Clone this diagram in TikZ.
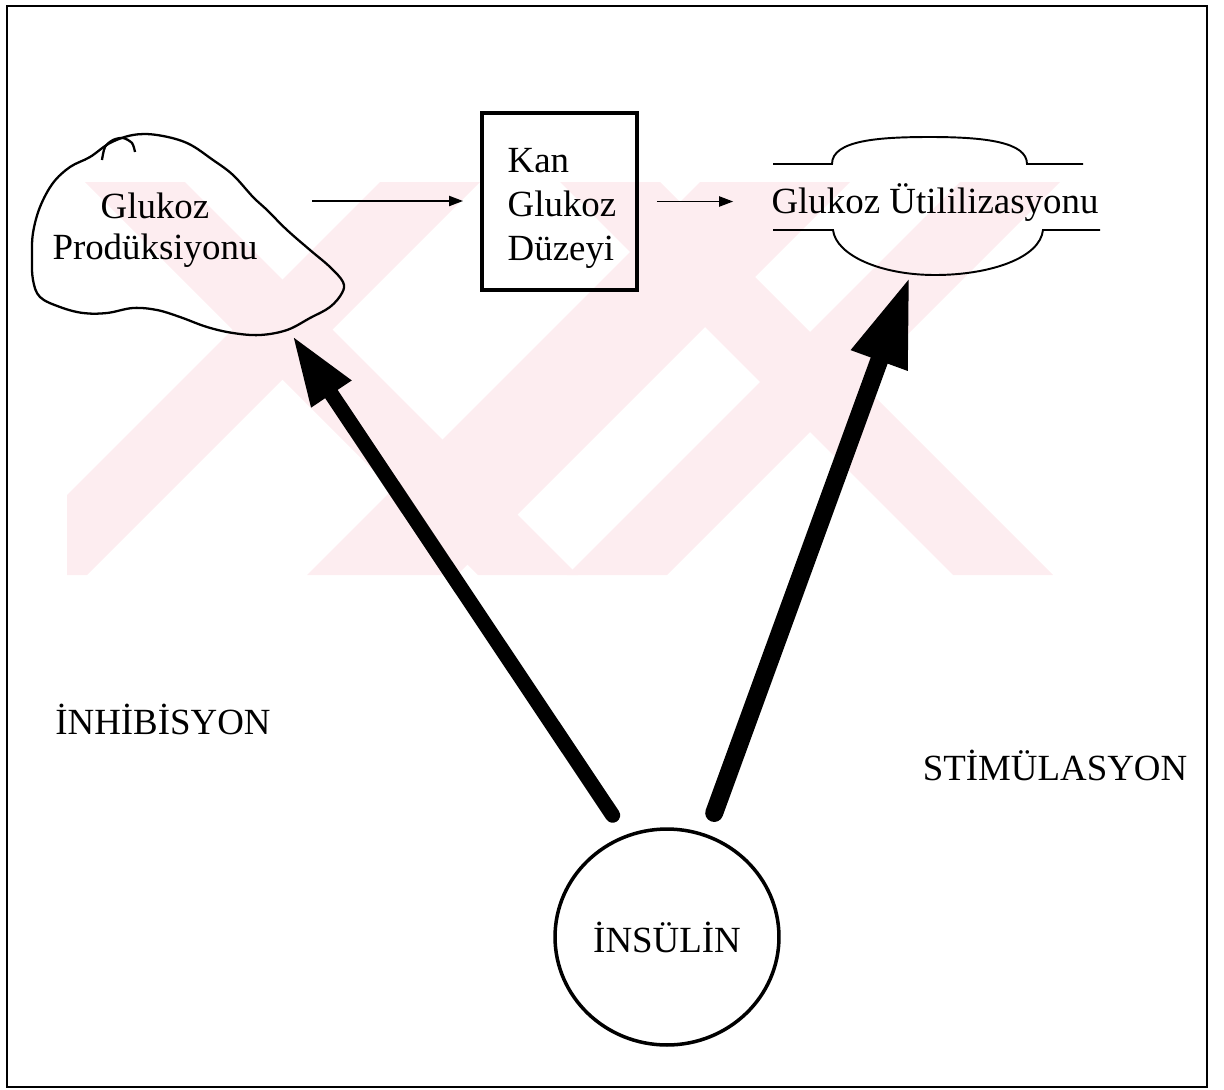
\documentclass[tikz,border=0pt]{standalone}
\usepackage{fontspec}
\setmainfont{Liberation Serif}
\usetikzlibrary{arrows.meta,shapes.geometric}
\definecolor{wmpink}{RGB}{253,237,240}

\begin{document}
\begin{tikzpicture}[
    x=0.02cm,
    y=-0.02cm,
    txt_style/.style={inner sep=0pt, font=\fontsize{21}{24}\selectfont},
    box_style/.style={draw, line width=2.2pt, minimum width=3.1cm, minimum height=3.54cm, inner sep=0pt},
    ins_style/.style={ellipse, draw, line width=2pt, minimum width=4.48cm, minimum height=4.32cm, inner sep=0pt, font=\fontsize{21}{24}\selectfont},
    outline_style/.style={draw, line width=1.3pt, line join=round},
    cloud_style/.style={draw, line width=1.1pt},
    thin_arrow/.style={draw, line width=1.1pt, -{Triangle[length=0.28cm, width=0.2cm]}},
    thick_arrow/.style={draw, line cap=round},
    wm_band/.style={fill=wmpink}
]
  \useasboundingbox (0,0) rectangle (1224,1089);
  % Watermark bands
  \begin{scope}
    \clip (67,182) rectangle (1077,575);
    \foreach \a/\w/\d in {85/100/393, 560/100/393, 380/100/-393, 700/150/-393, 960/100/-393} {
      \fill[wm_band] (\a,182) -- ({\a+\w},182) -- ({\a+\w+(\d)},575) -- ({\a+(\d)},575) -- cycle;
    }
  \end{scope}
  % Frame
  \draw[line width=1.2pt] (7,6) rectangle (1207,1087);
  % Hand drawn outline round the production
  \draw[outline_style] plot[smooth cycle, tension=0.6] coordinates {
    (133,135) (157,135) (187,143) (213,160) (233,175) (253,197) (267,210) (287,230)
    (310,250) (330,267) (343,282) (342,293) (330,307) (310,318) (287,330) (260,335)
    (233,333) (207,327) (180,317) (157,310) (133,308) (107,313) (83,313) (60,307)
    (40,297) (33,280) (32,257) (33,233) (40,207) (53,183) (70,167) (90,157) (110,143)};
  \draw[outline_style] plot[smooth] coordinates {(102,160) (105,147) (113,140) (123,138) (132,143) (135,152)};
  % Cloud round the utilization
  \draw[cloud_style] (773,164) -- (832,164) .. controls (832,140) and (880,137) .. (930,137)
    .. controls (985,137) and (1027,142) .. (1027,164) -- (1083,164);
  \draw[cloud_style] (773,230) -- (833,230) .. controls (836,255) and (880,275) .. (935,275)
    .. controls (990,275) and (1040,258) .. (1043,230) -- (1100,230);
  % Nodes
  \node[txt_style, align=center, font=\fontsize{21}{23.3}\selectfont] (prod) at (155,230) {Glukoz\\Prodüksiyonu};
  \node[box_style] (kan) at (559.5,201.5) {};
  \node[txt_style, align=left, font=\fontsize{21}{25}\selectfont] (kan_txt) at (562,208.5) {Kan\\Glukoz\\Düzeyi};
  \node[txt_style, anchor=base] (util) at (935,213) {Glukoz Ütililizasyonu};
  \node[ins_style] (ins) at (667,937) {İNSÜLİN};
  \node[txt_style, anchor=base] (inh) at (163,734) {İNHİBİSYON};
  \node[txt_style, anchor=base] (stim) at (1055,780) {STİMÜLASYON};
  % Thin arrows
  \coordinate (prod_out) at (312,201);
  \draw[thin_arrow, shorten >=0.34cm] (prod_out) -- (prod_out -| kan.west);
  \draw[thin_arrow, shorten <=0.36cm, shorten >=0.76cm] (kan.east) -- (kan.east -| util.west);
  % Thick arrows from insulin
  \coordinate (prod_tip) at (292,335);
  \coordinate (util_tip) at (910,276);
  \draw[thick_arrow, line width=0.3cm, shorten <=0.47cm, -{Triangle[length=1.42cm, width=0.88cm]}] (ins.112) -- (prod_tip);
  \draw[thick_arrow, line width=0.36cm, shorten <=0.45cm, -{Triangle[length=1.8cm, width=1.1cm]}] (ins.69) -- (util_tip);
\end{tikzpicture}
\end{document}
